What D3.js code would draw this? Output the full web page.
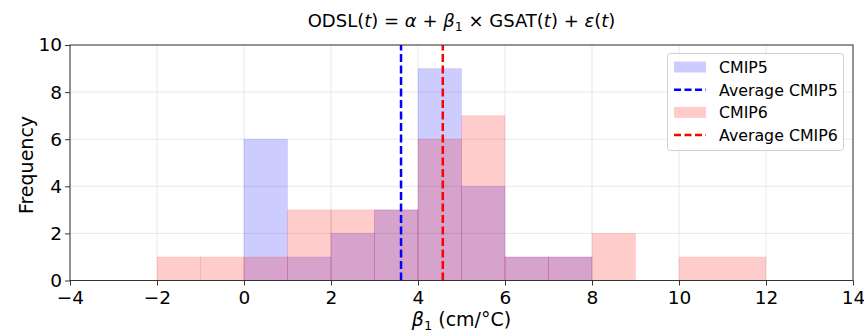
<!DOCTYPE html>
<html>
<head>
<meta charset="utf-8">
<script src="https://cdn.jsdelivr.net/npm/d3@7.9.0/dist/d3.min.js"></script>
<style>
  body { margin: 0; background: #fff; }
  svg { font-family: "DejaVu Sans", sans-serif; }
</style>
</head>
<body>
<svg id="chart" width="864" height="334"></svg>
<script>
// histogram bins: [x0, x1, count]
const cmip5Bins = [[0, 1, 6], [1, 2, 1], [2, 3, 2], [3, 4, 3], [4, 5, 9], [5, 6, 4], [6, 7, 1], [7, 8, 1]];
const cmip6Bins = [[-2, -1, 1], [-1, 0, 1], [0, 1, 1], [1, 2, 3], [2, 3, 3], [3, 4, 3], [4, 5, 6],
  [5, 6, 7], [6, 7, 1], [7, 8, 1], [8, 9, 2], [10, 12, 1]];
const avgCmip5 = 3.61;
const avgCmip6 = 4.57;
const xTicks = [-4, -2, 0, 2, 4, 6, 8, 10, 12, 14];
const yTicks = [0, 2, 4, 6, 8, 10];

const svg = d3.select('#chart');
const margin = { left: 70, right: 11, top: 45, bottom: 53.5 };
const W = 864, H = 334;

const x = d3.scaleLinear().domain([-4, 14]).range([margin.left, W - margin.right]);
const y = d3.scaleLinear().domain([0, 10]).range([H - margin.bottom, margin.top]);

// grid
const grid = svg.append('g').attr('stroke', '#b0b0b0').attr('stroke-opacity', 0.35).attr('stroke-width', 0.8);
grid.selectAll('.gx').data(xTicks).join('line')
  .attr('x1', d => x(d)).attr('x2', d => x(d))
  .attr('y1', y(0)).attr('y2', y(10));
grid.selectAll('.gy').data(yTicks).join('line')
  .attr('x1', x(-4)).attr('x2', x(14))
  .attr('y1', d => y(d)).attr('y2', d => y(d));

// bars
function drawBins(bins, color) {
  svg.append('g').selectAll('rect').data(bins).join('rect')
    .attr('x', d => x(d[0]))
    .attr('width', d => x(d[1]) - x(d[0]))
    .attr('y', d => y(d[2]))
    .attr('height', d => y(0) - y(d[2]))
    .attr('fill', color)
    .attr('fill-opacity', 0.2)
    .attr('stroke', color)
    .attr('stroke-opacity', 0.08)
    .attr('stroke-width', 1);
}
drawBins(cmip5Bins, 'blue');
drawBins(cmip6Bins, 'red');

// averages
[[avgCmip5, 'blue'], [avgCmip6, 'red']].forEach(([v, c]) => {
  svg.append('line')
    .attr('x1', x(v)).attr('x2', x(v))
    .attr('y1', y(0)).attr('y2', y(10))
    .attr('stroke', c).attr('stroke-width', 2.5)
    .attr('stroke-dasharray', '8,3.5');
});

// axes
const xAxis = svg.append('g')
  .attr('transform', `translate(0,${y(0)})`)
  .call(d3.axisBottom(x).tickValues(xTicks).tickSize(5).tickPadding(5)
    .tickFormat(d => d < 0 ? '\u2212' + Math.abs(d) : d));
const yAxis = svg.append('g')
  .attr('transform', `translate(${x(-4)},0)`)
  .call(d3.axisLeft(y).tickValues(yTicks).tickSize(5).tickPadding(3));
[xAxis, yAxis].forEach(a => {
  a.select('.domain').remove();
  a.selectAll('text').attr('font-size', 18.5).attr('fill', '#000').attr('font-family', 'DejaVu Sans');
  a.selectAll('line').attr('stroke', '#333');
});

// frame
svg.append('rect')
  .attr('x', x(-4)).attr('y', y(10))
  .attr('width', x(14) - x(-4)).attr('height', y(0) - y(10))
  .attr('fill', 'none').attr('stroke', '#333').attr('stroke-width', 1);

// labels
svg.append('text')
  .attr('x', (x(-4) + x(14)) / 2).attr('y', 26.5)
  .attr('text-anchor', 'middle').attr('font-size', 18)
  .html('ODSL(<tspan font-style="italic">t</tspan>) = <tspan font-style="italic">α</tspan> + <tspan font-style="italic">β</tspan><tspan font-size="12.5" dy="4">1</tspan><tspan dy="-4"> × GSAT(</tspan><tspan font-style="italic">t</tspan>) + <tspan font-style="italic">ε</tspan>(<tspan font-style="italic">t</tspan>)');

svg.append('text')
  .attr('x', (x(-4) + x(14)) / 2).attr('y', 326)
  .attr('text-anchor', 'middle').attr('font-size', 19)
  .html('<tspan font-style="italic">β</tspan><tspan font-size="13" dy="4">1</tspan><tspan dy="-4"> (cm/°C)</tspan>');

svg.append('text')
  .attr('transform', `translate(33,165) rotate(-90)`)
  .attr('text-anchor', 'middle').attr('font-size', 19)
  .text('Frequency');

// legend
const legendItems = [
  { label: 'CMIP5', color: 'blue', type: 'patch' },
  { label: 'Average CMIP5', color: 'blue', type: 'line' },
  { label: 'CMIP6', color: 'red', type: 'patch' },
  { label: 'Average CMIP6', color: 'red', type: 'line' }
];
const lg = svg.append('g');
lg.append('rect')
  .attr('x', 667.5).attr('y', 53.5).attr('width', 176).attr('height', 97).attr('rx', 3)
  .attr('fill', 'white').attr('fill-opacity', 0.8)
  .attr('stroke', '#d0d0d0').attr('stroke-width', 1);
const rows = lg.selectAll('g.row').data(legendItems).join('g')
  .attr('transform', (d, i) => `translate(674,${67 + i * 22.7})`);
rows.each(function (d) {
  const g = d3.select(this);
  if (d.type === 'patch') {
    g.append('rect').attr('x', 0).attr('y', -5.5).attr('width', 32).attr('height', 11)
      .attr('fill', d.color).attr('fill-opacity', 0.2);
  } else {
    g.append('line').attr('x1', 0).attr('x2', 32).attr('y1', 0).attr('y2', 0)
      .attr('stroke', d.color).attr('stroke-width', 2.5).attr('stroke-dasharray', '7,3.5');
  }
  g.append('text').attr('x', 45).attr('y', 5.8).attr('font-size', 15.8).text(d.label);
});
</script>
</body>
</html>
